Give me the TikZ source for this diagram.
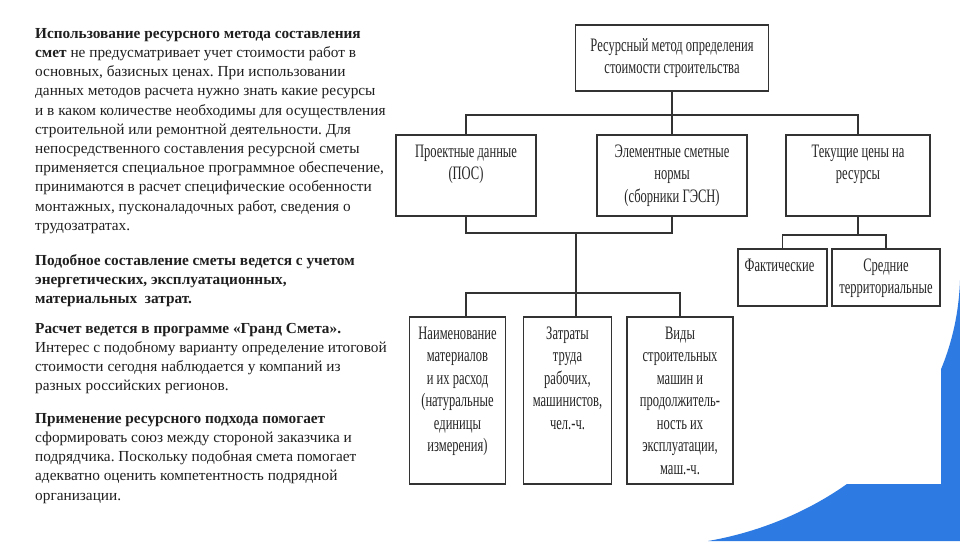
\documentclass[tikz,border=0pt]{standalone}
\usepackage{fontspec}
\setmainfont{Liberation Serif}
\newfontfamily\schemefont[FakeStretch=0.66]{Liberation Serif}
\definecolor{slideblue}{RGB}{44,122,226}
\usepackage{tikz}
\frenchspacing

\begin{document}
\begin{tikzpicture}
  [x=1pt,y=-1pt,
   para/.style={anchor=north west,align=left,inner sep=0pt,text=black!88,
     font=\fontsize{15.3}{19.2}\selectfont},
   box/.style={draw=black!80,line width=1.2pt,fill=white,inner sep=0pt,
     text=black!85,font=\schemefont\fontsize{19}{22.5}\selectfont},
   boxtext/.style={anchor=north,yshift=-10pt,align=center,inner sep=0pt,
     text=black!85,font=\schemefont\fontsize{19}{22.5}\selectfont},
   link/.style={draw=black!80,line width=1.2pt}]
  \useasboundingbox (0,0) rectangle (960,541);
  \fill[white] (0,0) rectangle (960,541);
  \fill[slideblue] (960,280) .. controls (955,430) and (830,520) .. (708,541)
    -- (960,541) -- cycle;
  \fill[white] (380,15) rectangle (941,484);

  \node[para] (p1) at (35,28) {\textbf{Использование ресурсного метода составления}\\
    \textbf{смет} не предусматривает учет стоимости работ в\\
    основных, базисных ценах. При использовании\\
    данных методов расчета нужно знать какие ресурсы\\
    и в каком количестве необходимы для осуществления\\
    строительной или ремонтной деятельности. Для\\
    непосредственного составления ресурсной сметы\\
    применяется специальное программное обеспечение,\\
    принимаются в расчет специфические особенности\\
    монтажных, пусконаладочных работ, сведения о\\
    трудозатратах.};
  \node[para,font=\fontsize{15.3}{19.2}\selectfont\bfseries] (p2) at (35,254)
    {Подобное составление сметы ведется с учетом\\
    энергетических, эксплуатационных,\\
    материальных\ \ затрат.};
  \node[para] (p3) at (35,323) {\textbf{Расчет ведется в программе «Гранд Смета».}\\
    Интерес с подобному варианту определение итоговой\\
    стоимости сегодня наблюдается у компаний из\\
    разных российских регионов.};
  \node[para] (p4) at (35,413) {\textbf{Применение ресурсного подхода помогает}\\
    сформировать союз между стороной заказчика и\\
    подрядчика. Поскольку подобная смета помогает\\
    адекватно оценить компетентность подрядной\\
    организации.};

  \node[box,align=center,minimum width=193pt,minimum height=66pt] (top) at (672,58)
    {Ресурсный метод определения\\стоимости строительства};
  \node[box,minimum width=140pt,minimum height=81pt,
    label={[boxtext]north:{Проектные данные\\(ПОС)}}] (proj) at (466,175.5) {};
  \node[box,minimum width=150pt,minimum height=81pt,
    label={[boxtext]north:{Элементные сметные\\нормы\\(сборники ГЭСН)}}] (norms) at (672,175.5) {};
  \node[box,minimum width=144pt,minimum height=81pt,
    label={[boxtext]north:{Текущие цены на\\ресурсы}}] (prices) at (858,175.5) {};

  \node[box,minimum width=96pt,minimum height=167pt,
    label={[boxtext]north:{Наименование\\материалов\\и их расход\\(натуральные\\единицы\\измерения)}}]
    (mat) at (457.5,400.5) {};
  \node[box,minimum width=88pt,minimum height=167pt,
    label={[boxtext]north:{Затраты\\труда\\рабочих,\\машинистов,\\чел.-ч.}}]
    (labour) at (567.5,400.5) {};
  \node[box,minimum width=106pt,minimum height=167pt,
    label={[boxtext]north:{Виды\\строительных\\машин и\\продолжитель-\\ность их\\эксплуатации,\\маш.-ч.}}]
    (mach) at (680,400.5) {};

  \node[box,minimum width=89pt,minimum height=57pt,
    label={[boxtext,anchor=north west,xshift=7pt]north west:Фактические}]
    (fact) at (782.5,277.5) {};
  \node[box,minimum width=108pt,minimum height=57pt,
    label={[boxtext]north:{Средние\\территориальные}}]
    (avg) at (886,277.5) {};

  \coordinate (busA) at (672,115);
  \coordinate (busB) at (576,233);
  \coordinate (busC) at (576,293);
  \coordinate (busD) at (858,235);

  \foreach \from/\to in {top.south/busA,busA/norms.north,busB/busC,prices.south/busD}
    \draw[link] (\from) -- (\to);
  \draw[link] (proj.north) |- (busA) -| (prices.north);
  \draw[link] (proj.south) |- (busB) -| (norms.south);
  \draw[link] (mat.north -| proj.south) |- (busC) -| (mach.north);
  \draw[link] (busC) -- (busC |- labour.north);
  \draw[link] (fact.north) |- (busD) -| (avg.north);

\end{tikzpicture}
\end{document}
